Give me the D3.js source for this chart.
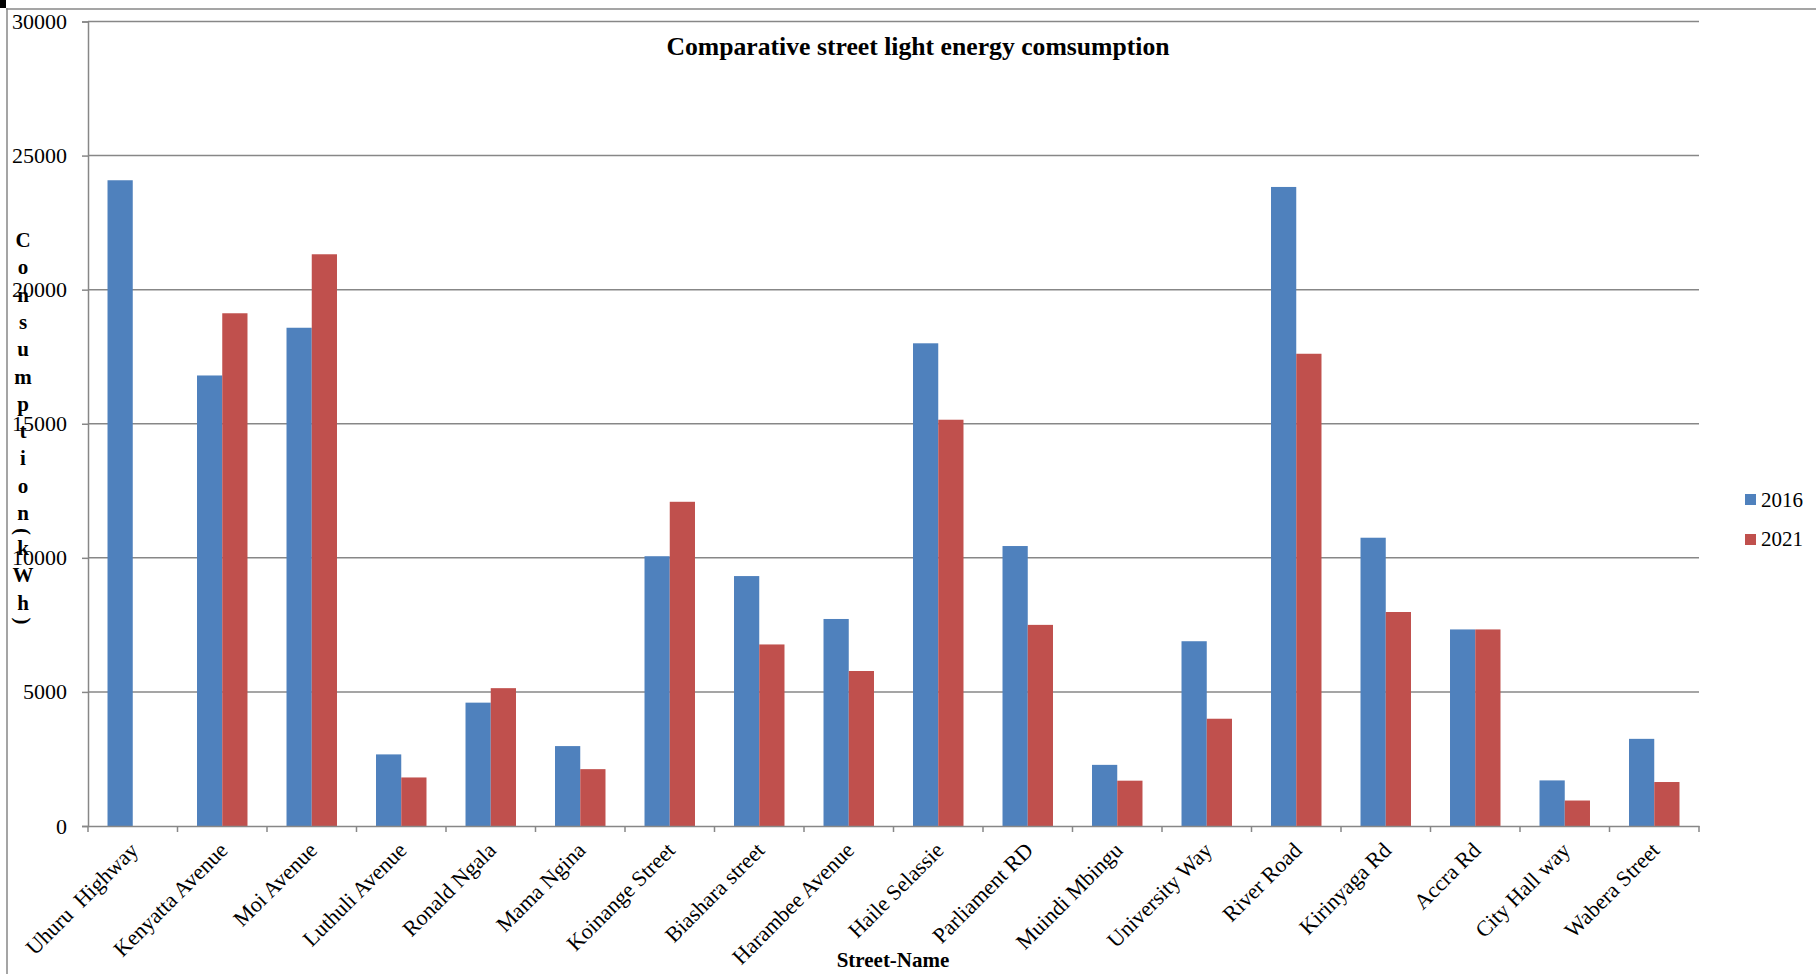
<!DOCTYPE html>
<html>
<head>
<meta charset="utf-8">
<script src="https://cdn.jsdelivr.net/npm/d3@7"></script>
<style>
  html, body { margin: 0; padding: 0; background: #fff; }
  svg { display: block; font-family: "Liberation Serif", "Times New Roman", serif; }
</style>
</head>
<body>
<svg id="chart" width="1816" height="974"></svg>
<script>
const categories = ["Uhuru  Highway", "Kenyatta Avenue", "Moi Avenue", "Luthuli Avenue", "Ronald Ngala",
  "Mama Ngina", "Koinange Street", "Biashara street", "Harambee Avenue", "Haile Selassie",
  "Parliament RD", "Muindi Mbingu", "University Way", "River Road", "Kirinyaga Rd",
  "Accra Rd", "City Hall way", "Wabera Street"];
const seriesNames = ["2016", "2021"];
const values2016 = [24080, 16800, 18580, 2670, 4600, 2980, 10060, 9320, 7720, 18000, 10440, 2280, 6890, 23830, 10750, 7330, 1700, 3250];
const values2021 = [0, 19120, 21320, 1810, 5140, 2120, 12090, 6770, 5780, 15150, 7500, 1690, 4000, 17610, 7980, 7330, 950, 1640];
const yTicks = [0, 5000, 10000, 15000, 20000, 25000, 30000];
const titleText = "Comparative street light energy comsumption";
const xTitle = "Street-Name";
const yTitle = "Consumption(kWh)";
const colors = ["#4F81BD", "#C0504D"];

const svg = d3.select("#chart");
const plot = { left: 88, right: 1699, top: 21.5, bottom: 826 };
const gridColor = "#878787";

// outer frame
svg.append("rect").attr("x", 0).attr("y", 0).attr("width", 6).attr("height", 8).attr("fill", "#000");
svg.append("line").attr("x1", 6).attr("x2", 1816).attr("y1", 9).attr("y2", 9)
  .attr("stroke", gridColor).attr("stroke-width", 1.5);
svg.append("line").attr("x1", 7).attr("x2", 7).attr("y1", 8).attr("y2", 974)
  .attr("stroke", gridColor).attr("stroke-width", 1.5);

const x0 = d3.scaleBand().domain(categories).range([plot.left, plot.right]).paddingInner(0).paddingOuter(0);
const bw = x0.bandwidth();
const x1 = d3.scaleBand().domain(seriesNames).range([bw * 0.218, bw * 0.782]).padding(0);
const y = d3.scaleLinear().domain([0, 30000]).range([plot.bottom, plot.top]);

// gridlines
svg.append("g").selectAll("line").data(yTicks.filter(d => d > 0)).join("line")
  .attr("x1", plot.left).attr("x2", plot.right)
  .attr("y1", d => y(d)).attr("y2", d => y(d))
  .attr("stroke", gridColor).attr("stroke-width", 1.5);

// bars
const data = categories.map((c, i) => ({ cat: c, vals: [values2016[i], values2021[i]] }));
const groups = svg.append("g").selectAll("g").data(data).join("g")
  .attr("transform", d => `translate(${x0(d.cat)},0)`);
groups.selectAll("rect").data(d => d.vals.map((v, j) => ({ key: seriesNames[j], v, j })))
  .join("rect")
  .attr("x", d => x1(d.key))
  .attr("width", x1.bandwidth())
  .attr("y", d => y(d.v))
  .attr("height", d => y(0) - y(d.v))
  .attr("fill", d => colors[d.j]);

// y axis
const yAxis = d3.axisLeft(y).tickValues(yTicks).tickSize(6).tickPadding(15).tickFormat(d3.format("d"));
const gy = svg.append("g").attr("transform", `translate(${plot.left},0)`).call(yAxis);
gy.select(".domain").attr("stroke", gridColor).attr("stroke-width", 1.5);
gy.selectAll(".tick line").attr("stroke", gridColor).attr("stroke-width", 1.5);
gy.selectAll(".tick text").attr("font-size", 22).attr("fill", "#000")
  .attr("font-family", "Liberation Serif, Times New Roman, serif");

// x axis
const xAxis = d3.axisBottom(x0).tickSize(0).tickFormat("");
const gx = svg.append("g").attr("transform", `translate(0,${plot.bottom})`).call(xAxis);
gx.select(".domain").attr("stroke", gridColor).attr("stroke-width", 1.5);
gx.selectAll(".tick").remove();
const boundaries = categories.map(c => x0(c)).concat([plot.right]);
gx.selectAll("line.bt").data(boundaries).join("line").attr("class", "bt")
  .attr("x1", d => d).attr("x2", d => d).attr("y1", 0).attr("y2", 6)
  .attr("stroke", gridColor).attr("stroke-width", 1.5);

// x labels
svg.append("g").selectAll("text").data(categories).join("text")
  .attr("transform", d => `translate(${x0(d) + bw / 2 - 5},840) rotate(-45)`)
  .attr("text-anchor", "end")
  .attr("dy", "0.75em")
  .attr("font-size", 22)
  .style("white-space", "pre")
  .attr("fill", "#000")
  .text(d => d);

// title
svg.append("text").attr("x", 918).attr("y", 55).attr("text-anchor", "middle")
  .attr("font-size", 25.7).attr("font-weight", "bold").attr("fill", "#000").text(titleText);

// x title
svg.append("text").attr("x", 893).attr("y", 967).attr("text-anchor", "middle")
  .attr("font-size", 21).attr("font-weight", "bold").attr("fill", "#000").text(xTitle);

// y title (stacked letters)
const chars = yTitle.split("");
let yPos = 247;
const isParen = c => c === "(" || c === ")";
const positions = chars.map((c, i) => {
  if (i > 0) yPos += (isParen(c) || isParen(chars[i - 1])) ? 17.5 : 27.3;
  return yPos;
});
const yt = svg.append("g");
chars.forEach((c, i) => {
  if (isParen(c)) {
    yt.append("text")
      .attr("transform", `translate(23,${positions[i] - 6}) rotate(90)`)
      .attr("text-anchor", "middle").attr("dy", "0.35em")
      .attr("font-size", 21).attr("font-weight", "bold").attr("fill", "#000").text(c);
  } else {
    yt.append("text").attr("x", 23).attr("y", positions[i]).attr("text-anchor", "middle")
      .attr("font-size", 21).attr("font-weight", "bold").attr("fill", "#000").text(c);
  }
});

// legend
const leg = svg.append("g");
seriesNames.forEach((s, i) => {
  leg.append("rect").attr("x", 1745).attr("y", 494 + i * 40).attr("width", 11).attr("height", 11).attr("fill", colors[i]);
  leg.append("text").attr("x", 1761).attr("y", 507 + i * 39).attr("font-size", 21).attr("fill", "#000").text(s);
});
</script>
</body>
</html>
